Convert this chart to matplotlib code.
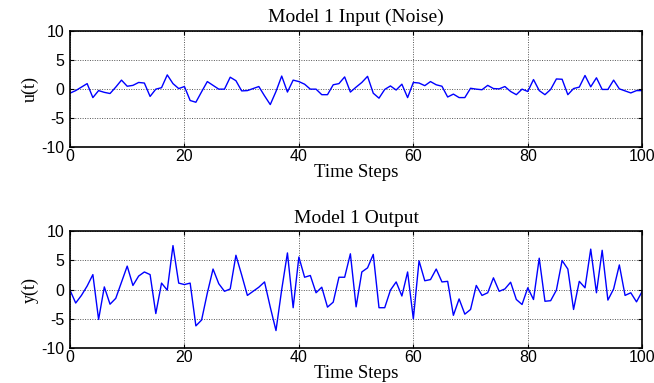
import numpy as np
import matplotlib
matplotlib.use("Agg")
import matplotlib.pyplot as plt

plt.rcParams["axes.unicode_minus"] = False

steps = np.arange(0, 101)

u_input = [
    -0.74, -0.3, 0.3, 0.9, -1.5, -0.3, -0.6, -0.8, 0.3, 1.5,
    0.45, 0.6, 1.1, 1.0, -1.3, -0.05, 0.2, 2.4, 0.9, 0.05,
    0.4, -2.0, -2.3, -0.5, 1.25, 0.6, -0.05, -0.05, 2.0, 1.4,
    -0.35, -0.3, 0.05, 0.4, -1.2, -2.7, -0.45, 2.2, -0.55, 1.5,
    1.25, 0.8, -0.05, -0.05, -1.0, -1.0, 0.7, 0.9, 2.05, -0.55,
    0.3, 1.1, 2.15, -0.75, -1.6, -0.1, 0.5, -0.2, 0.8, -1.5,
    1.1, 1.0, 0.55, 1.25, 0.7, 0.45, -1.4, -0.9, -1.5, -1.5,
    0.1, -0.05, -0.15, 0.6, 0.05, 0.0, 0.4, -0.45, -1.0, -0.05,
    -0.45, 1.6, -0.3, -1.0, -0.1, 1.7, 1.65, -1.0, 0.05, 0.3,
    2.3, 0.35, 1.9, -0.1, -0.1, 1.5, 0.0, -0.35, -0.7, -0.3,
    -0.3,
]

y_output = [
    -0.1, -2.3, -1.0, 0.6, 2.55, -5.1, 0.45, -2.5, -1.5, 1.25,
    4.0, 0.7, 2.3, 3.0, 2.55, -4.1, 1.1, -0.1, 7.5, 1.1,
    0.85, 1.1, -6.2, -5.2, -0.6, 3.5, 1.0, -0.3, 0.1, 5.85,
    2.5, -1.0, -0.3, 0.4, 1.3, -3.0, -7.0, 0.0, 6.25, -3.1,
    5.55, 2.1, 2.4, -0.55, 0.4, -3.0, -2.15, 2.1, 2.1, 6.1,
    -2.95, 3.0, 3.7, 6.0, -3.1, -3.1, -0.1, 1.3, -1.1, 3.0,
    -5.0, 4.9, 1.5, 1.7, 3.5, 1.3, 1.4, -4.4, -1.6, -4.2,
    -3.4, 0.7, -1.0, -0.55, 2.0, -0.3, 0.1, 1.25, -1.7, -2.55,
    0.3, -1.7, 5.35, -2.0, -1.9, -0.1, 4.95, 3.5, -3.4, 1.4,
    0.3, 6.9, -0.55, 6.7, -1.8, 0.1, 4.2, -1.0, -0.55, -2.1,
    -0.3,
]

x_ticks = [0, 20, 40, 60, 80, 100]
y_ticks = [-10, -5, 0, 5, 10]

panels = [
    ("Model 1 Input (Noise)", "u(t)", u_input),
    ("Model 1 Output", "y(t)", y_output),
]

serif = ["Liberation Serif", "DejaVu Serif"]
sans = ["Liberation Sans", "DejaVu Sans"]

fig = plt.figure(figsize=(6.54, 3.83), dpi=100)
fig.patch.set_facecolor("white")

boxes = [
    [0.107, 0.616, 0.875, 0.304],
    [0.107, 0.091, 0.875, 0.306],
]

for (title, ylab, series), box in zip(panels, boxes):
    ax = fig.add_axes(box)
    ax.plot(steps, series, color="#0000ff", linewidth=1.0)
    ax.set_xlim(0, 100)
    ax.set_ylim(-10, 10)
    ax.set_xticks(x_ticks)
    ax.set_yticks(y_ticks)
    ax.grid(True, color="#555555", linestyle=(0, (1, 1.5)), linewidth=0.7)
    ax.tick_params(direction="in", length=3, width=0.8, top=True, right=True,
                   labelsize=11.5)
    ax.tick_params(axis="x", pad=1.5)
    ax.tick_params(axis="y", pad=4)
    for lbl in ax.get_xticklabels() + ax.get_yticklabels():
        lbl.set_family(sans)
    for s in ax.spines.values():
        s.set_linewidth(1.2)
    ax.set_title(title, family=serif, fontsize=14, pad=6)
    ax.set_xlabel("Time Steps", family=serif, fontsize=13.5, labelpad=0)
    ax.set_ylabel(ylab, family=serif, fontsize=13, labelpad=2)

fig.savefig("out.png", dpi=100, facecolor="white")
